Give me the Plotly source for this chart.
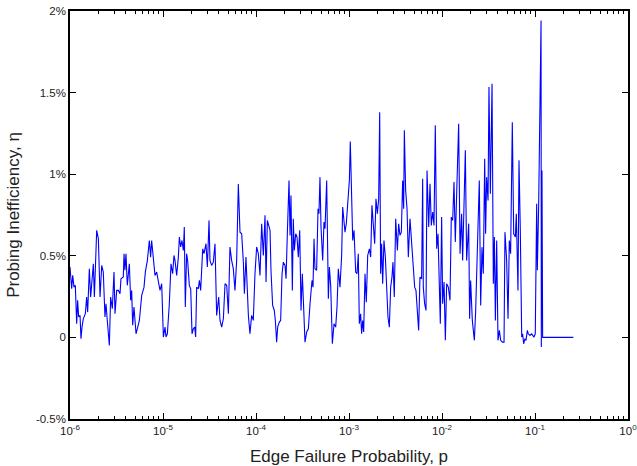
import numpy as np
import plotly.graph_objects as go

# log10 of edge failure probability p
log_p = [
    -6.000, -5.982, -5.971, -5.957, -5.943, -5.928, -5.918, -5.907, -5.892, -5.882,
    -5.871, -5.857, -5.835, -5.821, -5.810, -5.792, -5.778, -5.763, -5.749, -5.738,
    -5.724, -5.713, -5.695, -5.677, -5.659, -5.642, -5.624, -5.613, -5.599, -5.577,
    -5.563, -5.545, -5.527, -5.516, -5.498, -5.480, -5.462, -5.452, -5.427, -5.419,
    -5.409, -5.398, -5.384, -5.362, -5.348, -5.337, -5.326, -5.312, -5.290, -5.276,
    -5.254, -5.229, -5.204, -5.190, -5.168, -5.147, -5.133, -5.122, -5.104, -5.086,
    -5.068, -5.050, -5.032, -5.014, -4.996, -4.978, -4.968, -4.953, -4.932, -4.914,
    -4.896, -4.882, -4.871, -4.853, -4.835, -4.824, -4.810, -4.796, -4.781, -4.771,
    -4.760, -4.746, -4.735, -4.717, -4.702, -4.688, -4.674, -4.659, -4.649, -4.638,
    -4.620, -4.609, -4.595, -4.573, -4.559, -4.538, -4.523, -4.505, -4.495, -4.477,
    -4.459, -4.441, -4.423, -4.401, -4.387, -4.369, -4.351, -4.333, -4.315, -4.297,
    -4.280, -4.262, -4.244, -4.226, -4.208, -4.190, -4.172, -4.154, -4.136, -4.125,
    -4.108, -4.082, -4.065,
    -4.047, -4.029, -4.011, -3.993, -3.975, -3.957, -3.939, -3.921, -3.903, -3.892,
    -3.878, -3.867, -3.849, -3.839, -3.821, -3.803, -3.792, -3.778, -3.767, -3.749,
    -3.735, -3.720, -3.706, -3.688, -3.677, -3.663, -3.645, -3.634, -3.624, -3.609,
    -3.599, -3.588, -3.573, -3.559, -3.545, -3.530, -3.516, -3.502, -3.487, -3.473,
    -3.455, -3.437, -3.419, -3.398, -3.387, -3.376, -3.366, -3.348, -3.333, -3.323,
    -3.312, -3.301, -3.283, -3.269, -3.258, -3.240, -3.222, -3.211, -3.197, -3.179,
    -3.161, -3.143, -3.129, -3.115, -3.097, -3.079, -3.068, -3.054, -3.043, -3.029,
    -3.014, -2.996, -2.986, -2.971, -2.960, -2.946, -2.928, -2.914, -2.900, -2.889,
    -2.875, -2.864, -2.853, -2.842, -2.828, -2.814, -2.799, -2.781, -2.767, -2.753,
    -2.738, -2.724, -2.710, -2.695, -2.681, -2.670, -2.660, -2.649, -2.638, -2.624,
    -2.609, -2.595, -2.581, -2.566, -2.552, -2.538, -2.527, -2.513, -2.498, -2.480,
    -2.466, -2.452, -2.437, -2.423, -2.412, -2.405, -2.391, -2.376, -2.362, -2.344,
    -2.319, -2.308, -2.294, -2.280, -2.262, -2.251, -2.237, -2.219, -2.208, -2.201,
    -2.187, -2.172, -2.161, -2.143, -2.129, -2.115, -2.100, -2.086, -2.072, -2.057,
    -2.043, -2.029, -2.018, -2.004, -1.993, -1.978, -1.964, -1.950, -1.932, -1.914,
    -1.900, -1.885, -1.871, -1.857, -1.842, -1.821, -1.806, -1.789, -1.778, -1.763,
    -1.749, -1.735, -1.713, -1.703, -1.692, -1.674, -1.652, -1.638, -1.620, -1.599,
    -1.584, -1.570, -1.556, -1.541, -1.531, -1.520, -1.505, -1.495, -1.480, -1.462,
    -1.448, -1.437, -1.426, -1.412, -1.398, -1.383, -1.369, -1.351, -1.333, -1.323,
    -1.305, -1.290, -1.276, -1.262, -1.244, -1.229, -1.211, -1.201, -1.183, -1.172,
    -1.158, -1.143, -1.133, -1.122, -1.108, -1.097, -1.082, -1.072, -1.054, -1.036,
    -1.011, -0.997, -0.982, -0.975, -0.961, -0.935, -0.932, -0.925, -0.918, -0.588,
]

# probing inefficiency eta, in percent
eta = [
    0.431, 0.298, 0.380, 0.308, 0.319, 0.084, 0.227, 0.125, 0.135, -0.008,
    0.063, 0.114, 0.145, 0.247, 0.155, 0.421, 0.247, 0.349, 0.451, 0.247,
    0.533, 0.656, 0.605, 0.247, 0.441, 0.400, 0.125, 0.206, 0.104, -0.049,
    0.247, 0.176, 0.400, 0.145, 0.288, 0.288, 0.267, 0.359, 0.370, 0.513,
    0.411, 0.513, 0.319, 0.451, 0.227, 0.288, 0.074, 0.186, 0.022, 0.053,
    0.104, 0.257, 0.308, 0.400, 0.472, 0.594, 0.492, 0.594, 0.461, 0.380,
    0.400, 0.349, 0.288, 0.329, 0.002, 0.063, 0.002, 0.022, 0.206, 0.451,
    0.390, 0.502, 0.472, 0.380, 0.492, 0.615, 0.554, 0.594, 0.533, 0.676,
    0.186, 0.513, 0.472, 0.319, 0.298, 0.022, 0.053, 0.063, 0.002, 0.308,
    0.298, 0.349, 0.288, 0.543, 0.513, 0.574, 0.431, 0.717, 0.472, 0.441,
    0.461, 0.574, 0.135, 0.247, 0.104, 0.063, 0.114, 0.329, 0.319, 0.145,
    0.554, 0.472, 0.421, 0.288, 0.472, 0.940, 0.645, 0.635, 0.461, 0.267,
    0.492, 0.135, 0.022,
    0.135, 0.104, 0.390, 0.554, 0.513, 0.380, 0.696, 0.502, 0.748, 0.339,
    0.717, 0.686, 0.656, 0.411, 0.196, 0.165, 0.104, -0.029, 0.063, 0.094,
    0.104, 0.390, 0.461, 0.441, 0.359, 0.635, 0.962, 0.625, 0.870, 0.288,
    0.727, 0.533, 0.635, 0.615, 0.492, 0.656, 0.165, 0.390, 0.125, -0.029,
    0.033, 0.053, 0.206, 0.349, 0.308, 0.605, 0.421, 0.411, 0.788, 0.758,
    0.982, 0.676, 0.472, 0.707, 0.666, 0.962, 0.237, 0.431, 0.319, -0.039,
    0.084, 0.063, 0.186, 0.421, 0.308, 0.502, 0.799, 0.717, 0.645, 0.696,
    0.829, 0.962, 1.200, 0.788, 0.594, 0.656, 0.400, 0.390, 0.513, 0.084,
    0.145, 0.022, 0.104, 0.033, 0.390, 0.216, 0.502, 0.543, 0.492, 0.809,
    0.676, 0.574, 0.850, 0.758, 0.850, 1.380, 0.390, 0.574, 0.329, 0.594,
    0.492, 0.247, 0.125, 0.063, 0.308, 0.370, 0.461, 0.247, 0.727, 0.533,
    0.696, 0.625, 0.645, 0.962, 0.788, 1.270, 0.901, 0.788, 0.492, 0.727,
    0.513, 0.359, 0.308, 0.288, 0.084, 0.043, 0.370, 0.359, 0.972, 0.308,
    0.206, 0.165, 1.023, 0.676, 0.941, 0.686, 0.768, 0.686, 1.300, 0.543,
    0.635, 0.329, 0.084, 0.737, 0.206, 0.339, -0.018, 0.329, 0.308, 0.227,
    0.737, 0.717, 0.952, 0.584, 0.921, 1.309, 0.513, 0.758, 0.472, 0.839,
    1.146, 0.472, 0.697, 0.114, 0.349, 0.104, -0.018, 0.165, 0.574, 0.962,
    0.196, 0.553, 0.390, 1.095, 0.635, 0.982, 0.839, 1.534, 0.880, 1.554,
    0.329, 0.615, 0.104, 0.594, -0.018, 0.043, -0.018, -0.029, -0.029, 0.645,
    0.472, 0.114, 0.594, 0.513, 1.319, 0.635, 0.615, 0.758, 0.288, 1.085,
    0.656, 0.002, 0.022, -0.039, -0.008, -0.018, 0.043, 0.022, 0.012, 0.022,
    0.002, 0.022, 0.819, 0.411, 0.799, 1.942, -0.059, 1.023, 0.000, 0.000,
]

x_tick_exps = [-6, -5, -4, -3, -2, -1, 0]
y_tick_vals = [-0.5, 0, 0.5, 1, 1.5, 2]
y_tick_text = ["-0.5%", "0", "0.5%", "1%", "1.5%", "2%"]

p = [10 ** e for e in log_p]
x_tick_vals = [10.0 ** e for e in x_tick_exps]
x_tick_text = ["10<sup>%d</sup>" % e for e in x_tick_exps]
minor_vals = [m * 10.0 ** e for e in x_tick_exps[:-1] for m in range(2, 10)]

fig = go.Figure()
fig.add_trace(go.Scatter(
    x=p, y=eta, mode="lines",
    line=dict(color="#0000ff", width=1.1),
    showlegend=False,
))

font_family = "Liberation Sans, Arial, sans-serif"
fig.update_layout(
    width=637, height=466,
    margin=dict(l=70, r=9, t=11, b=47, autoexpand=False),
    paper_bgcolor="white", plot_bgcolor="white",
    font=dict(family=font_family, color="#222", size=11.5),
    xaxis=dict(
        type="log", range=[-6, 0], automargin=False,
        ticklabeloverflow="allow",
        tickvals=x_tick_vals, ticktext=x_tick_text,
        ticks="inside", ticklen=6, tickwidth=1, tickcolor="black",
        minor=dict(tickvals=minor_vals, ticks="inside", ticklen=3,
                   tickcolor="black", tickwidth=1, showgrid=False),
        showline=True, linecolor="black", linewidth=1.5, mirror="allticks",
        showgrid=False, zeroline=False,
        tickfont=dict(size=11.5, color="#222"),
        title=dict(text="Edge Failure Probability, p",
                   font=dict(size=17, color="#222"), standoff=16),
    ),
    yaxis=dict(
        range=[-0.5, 2], automargin=False,
        ticklabeloverflow="allow",
        tickvals=y_tick_vals, ticktext=y_tick_text,
        ticks="inside", ticklen=6, tickwidth=1, tickcolor="black",
        showline=True, linecolor="black", linewidth=1.5, mirror="allticks",
        showgrid=False, zeroline=False,
        tickfont=dict(size=11.5, color="#222"),
        title=dict(text="Probing Inefficiency, η",
                   font=dict(size=17, color="#222"), standoff=12),
    ),
)

# remove the default page margin so the figure fills the window exactly
fig.write_html(
    "out.html",
    config={"displayModeBar": False},
    post_script="document.body.style.margin='0';document.body.style.overflow='hidden';",
)
